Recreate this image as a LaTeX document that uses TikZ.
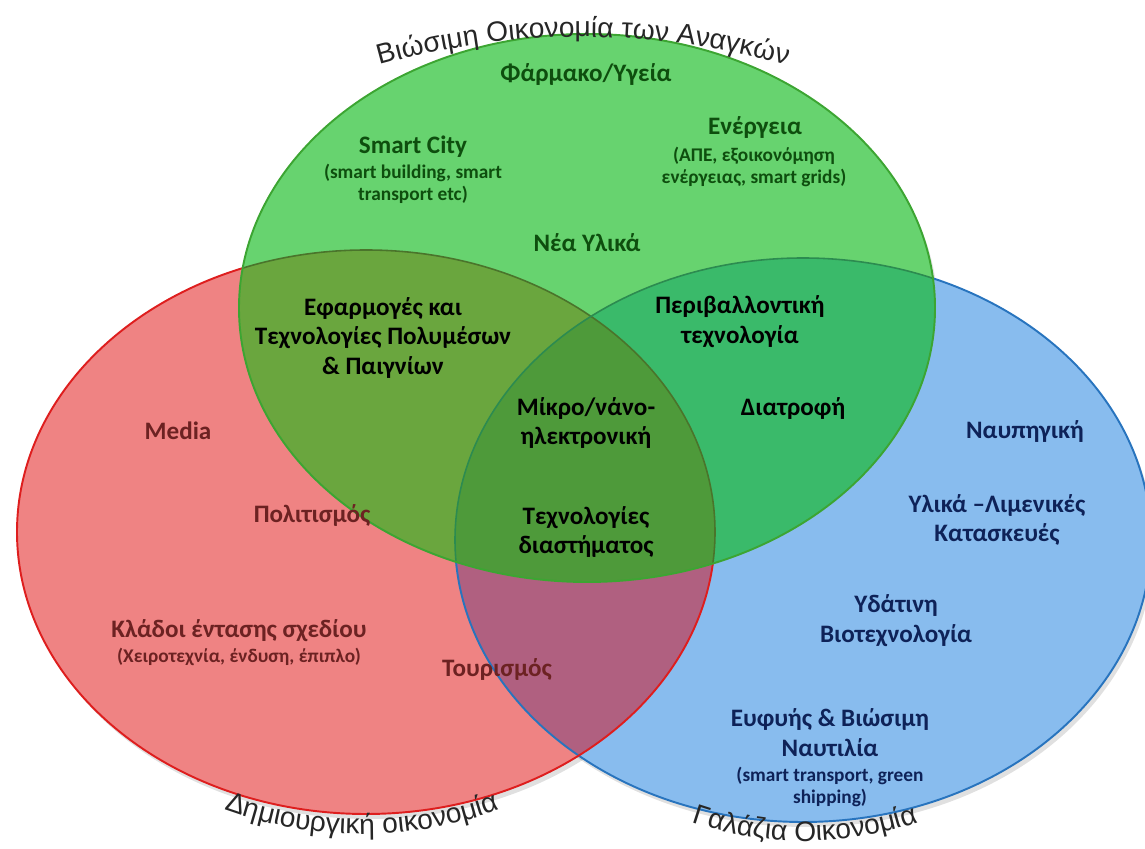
\documentclass[tikz,border=0pt]{standalone}
\usepackage{fontspec}
\setmainfont{Carlito}
\newfontfamily\arcfont{Liberation Sans}
\usetikzlibrary{decorations.text}

\definecolor{rouge}{RGB}{239,131,131}
\definecolor{bleu}{RGB}{136,188,238}
\definecolor{vert}{RGB}{103,211,111}
\definecolor{mauve}{RGB}{176,96,128}
\definecolor{olive}{RGB}{106,166,62}
\definecolor{turquoise}{RGB}{58,186,106}
\definecolor{centre}{RGB}{78,154,58}
\definecolor{bordrouge}{RGB}{222,30,30}
\definecolor{bordbleu}{RGB}{40,116,190}
\definecolor{bordvert}{RGB}{60,165,50}
\definecolor{textevert}{RGB}{14,78,14}
\definecolor{texterouge}{RGB}{108,34,34}
\definecolor{textebleu}{RGB}{14,34,88}

\tikzset{
  titre/.style={font=\bfseries\fontsize{14.3}{17}\selectfont, align=center},
  detail/.style={font=\bfseries\fontsize{11}{12.5}\selectfont, align=center},
  arctexte/.style={decorate, decoration={text along path, text align=center,
      text={|\arcfont\fontsize{16}{19}\selectfont\color{black!85}|#1}}}
}

\begin{document}
\begin{tikzpicture}[x=0.02cm, y=0.02cm]
        \useasboundingbox (0,0) rectangle (1145,848);

        % Les ombres
        \fill[black, opacity=0.12] (369,311) ellipse [x radius=349, y radius=282];
        \fill[black, opacity=0.12] (806,303) ellipse [x radius=348, y radius=282];
        \fill[black, opacity=0.10] (590,535) ellipse [x radius=348, y radius=274];

        % Les ellipses rouge et bleue
        \fill[rouge] (366,316) ellipse [x radius=349, y radius=282];
        \fill[bleu] (803,308) ellipse [x radius=348, y radius=282];
        \begin{scope}
          \clip (366,316) ellipse [x radius=349, y radius=282];
          \fill[mauve] (803,308) ellipse [x radius=348, y radius=282];
        \end{scope}
        \draw[bordbleu, line width=1.1pt] (803,308) ellipse [x radius=348, y radius=282];
        \draw[bordrouge, line width=1.1pt] (366,316) ellipse [x radius=349, y radius=282];

        % L'ellipse verte et ses intersections
        \fill[vert] (587,540) ellipse [x radius=348, y radius=274];
        \begin{scope}
          \clip (587,540) ellipse [x radius=348, y radius=274];
          \fill[olive] (366,316) ellipse [x radius=349, y radius=282];
          \fill[turquoise] (803,308) ellipse [x radius=348, y radius=282];
          \clip (366,316) ellipse [x radius=349, y radius=282];
          \fill[centre] (803,308) ellipse [x radius=348, y radius=282];
        \end{scope}
        \begin{scope}
          \clip (587,540) ellipse [x radius=348, y radius=274];
          \draw[olive!70!black, line width=0.9pt] (366,316) ellipse [x radius=349, y radius=282];
          \draw[turquoise!75!black, line width=0.9pt] (803,308) ellipse [x radius=348, y radius=282];
        \end{scope}
        \draw[bordvert, line width=1.1pt] (587,540) ellipse [x radius=348, y radius=274];

        % Les titres courbes
        \path[arctexte={Βιώσιμη Οικονομία των Αναγκών}]
          ([shift={(583,57)}]110:754) arc [start angle=110, end angle=70, radius=754];
        \path[arctexte={Δημιουργική οικονομία}]
          ([shift={(362,418)}]245:404) arc [start angle=245, end angle=295, radius=404];
        \path[arctexte={Γαλάζια Οικονομία}]
          ([shift={(805,355)}]245:348) arc [start angle=245, end angle=295, radius=348];

        % Le cercle vert
        \node[titre, text=textevert] (farmako) at (586,773) {Φάρμακο/Υγεία};
        \node[titre, text=textevert] (smartcity) at (413,701) {Smart City};
        \node[detail, text=textevert] (smartcity-info) at (413,664) {(smart building,  smart\\transport etc)};
        \node[titre, text=textevert] (energeia) at (755,720) {Ενέργεια};
        \node[detail, text=textevert] (energeia-info) at (754,681) {(ΑΠΕ, εξοικονόμηση\\ενέργειας, smart grids)};
        \node[titre, text=textevert] (neaylika) at (587,605) {Νέα Υλικά};

        % Les intersections
        \node[titre] (polymesa) at (383,510) {Εφαρμογές και\\Τεχνολογίες Πολυμέσων\\\& Παιγνίων};
        \node[titre] (perivallon) at (740,526) {Περιβαλλοντική\\τεχνολογία};
        \node[titre] (diatrofi) at (793,439) {Διατροφή};
        \node[titre] (mikro) at (586,425) {Μίκρο/νάνο-\\ηλεκτρονική};
        \node[titre] (diastima) at (586,316) {Τεχνολογίες\\διαστήματος};

        % Le cercle rouge
        \node[titre, text=texterouge] (media) at (178,417) {Media};
        \node[titre, text=texterouge] (politismos) at (312,332) {Πολιτισμός};
        \node[titre, text=texterouge] (kladoi) at (239,217) {Κλάδοι έντασης σχεδίου};
        \node[detail, text=texterouge] (kladoi-info) at (239,191) {(Χειροτεχνία, ένδυση, έπιπλο)};
        \node[titre, text=texterouge] (tourismos) at (497,178) {Τουρισμός};

        % Le cercle bleu
        \node[titre, text=textebleu] (naupigiki) at (1025,416) {Ναυπηγική};
        \node[titre, text=textebleu] (limenikes) at (997,328) {Υλικά –Λιμενικές\\Κατασκευές};
        \node[titre, text=textebleu] (ydatini) at (896,227) {Υδάτινη\\Βιοτεχνολογία};
        \node[titre, text=textebleu] (naftilia) at (830,115) {Ευφυής \& Βιώσιμη\\Ναυτιλία};
        \node[detail, text=textebleu] (naftilia-info) at (830,61) {(smart transport, green\\shipping)};

\end{tikzpicture}
\end{document}
